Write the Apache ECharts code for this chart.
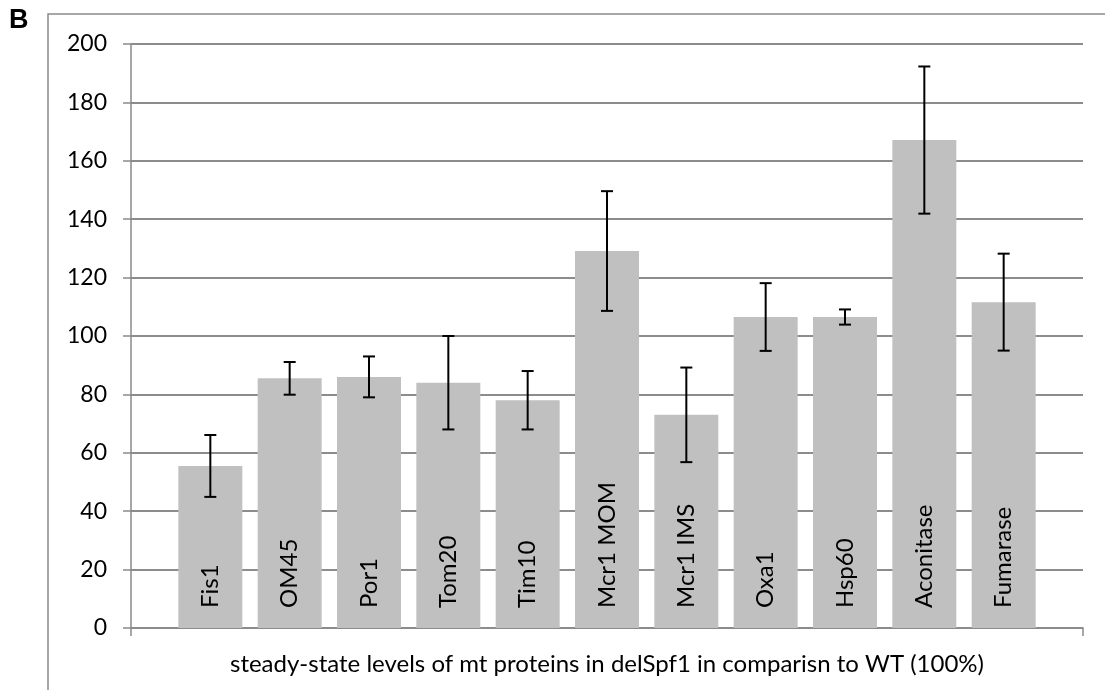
<!DOCTYPE html>
<html>
<head>
<meta charset="utf-8">
<script src="https://cdn.jsdelivr.net/npm/echarts@6/dist/echarts.min.js"></script>
<style>
  html, body { margin: 0; padding: 0; background: #fff; }
  #chart { width: 1105px; height: 690px; }
</style>
</head>
<body>
<div id="chart"></div>
<script>
// Steady-state protein levels (% of WT) with error bars
const categories = ['Fis1', 'OM45', 'Por1', 'Tom20', 'Tim10', 'Mcr1 MOM', 'Mcr1 IMS', 'Oxa1', 'Hsp60', 'Aconitase', 'Fumarase'];
const levels = [55.5, 85.5, 86.0, 84.0, 78.0, 129.1, 73.0, 106.5, 106.5, 167.1, 111.6];
const errors = [10.6, 5.6, 7.0, 16.0, 10.0, 20.5, 16.2, 11.6, 2.6, 25.2, 16.6];
const yTicks = { min: 0, max: 200, interval: 20 };
const axisTitle = 'steady-state levels of mt proteins in delSpf1 in comparisn to WT (100%)';
const panelLetter = 'B';

// The category axis carries an empty slot at each end so the bars sit inside the axis span
const axisCats = [''].concat(categories, ['']);
const barData = [null].concat(levels, [null]);
const errData = levels.map((v, i) => [i + 1, v - errors[i], v + errors[i]]);

const FONT = 'Lato';
const chart = echarts.init(document.getElementById('chart'), null, { renderer: 'canvas' });

chart.setOption({
  animation: false,
  backgroundColor: '#fff',
  title: {
    text: panelLetter,
    left: 4,
    top: 2,
    textStyle: {
      fontFamily: '"Liberation Sans", Arial, sans-serif',
      fontSize: 27,
      fontWeight: 'bold',
      color: '#000'
    }
  },
  grid: { left: 131, right: 22, top: 44, bottom: 62, containLabel: false },
  graphic: [
    {
      type: 'rect', silent: true, z: -1,
      shape: { x: 48, y: 14, width: 1120, height: 720 },
      style: { fill: 'none', stroke: '#8a8a8a', lineWidth: 1.5 }
    }
  ],
  xAxis: {
    type: 'category',
    data: axisCats,
    boundaryGap: false,
    name: axisTitle,
    nameLocation: 'middle',
    nameGap: 24,
    nameTextStyle: { fontFamily: FONT, fontSize: 24, color: '#000', verticalAlign: 'top' },
    axisLine: { show: true, lineStyle: { color: '#8a8a8a', width: 1.5 } },
    axisTick: {
      show: true, length: 8, inside: false,
      interval: (idx) => idx === 0 || idx === axisCats.length - 1,
      lineStyle: { color: '#8a8a8a', width: 1.5 }
    },
    axisLabel: { show: false },
    splitLine: { show: false }
  },
  yAxis: {
    type: 'value',
    min: yTicks.min, max: yTicks.max, interval: yTicks.interval,
    axisLine: { show: true, lineStyle: { color: '#8a8a8a', width: 1.5 } },
    axisTick: { show: true, length: 8, lineStyle: { color: '#8a8a8a', width: 1.5 } },
    axisLabel: { fontFamily: FONT, fontSize: 23, color: '#000', margin: 24 },
    splitLine: { show: true, lineStyle: { color: '#8c8c8c', width: 2 } }
  },
  series: [
    {
      type: 'bar',
      data: barData,
      barWidth: 64,
      itemStyle: { color: '#c0c0c0' },
      label: {
        show: true,
        position: 'insideBottom',
        distance: 20,
        rotate: 90,
        align: 'left',
        verticalAlign: 'middle',
        formatter: (p) => p.name,
        fontFamily: FONT,
        fontSize: 24,
        color: '#000'
      },
      z: 2
    },
    {
      type: 'custom',
      data: errData,
      z: 5,
      renderItem: (params, api) => {
        const x = api.value(0);
        const lo = api.coord([x, api.value(1)]);
        const hi = api.coord([x, api.value(2)]);
        const half = 6;
        const st = { stroke: '#000', lineWidth: 2 };
        return {
          type: 'group',
          children: [
            { type: 'line', shape: { x1: lo[0], y1: lo[1], x2: hi[0], y2: hi[1] }, style: st },
            { type: 'line', shape: { x1: lo[0] - half, y1: lo[1], x2: lo[0] + half, y2: lo[1] }, style: st },
            { type: 'line', shape: { x1: hi[0] - half, y1: hi[1], x2: hi[0] + half, y2: hi[1] }, style: st }
          ]
        };
      }
    }
  ]
});
</script>
</body>
</html>
